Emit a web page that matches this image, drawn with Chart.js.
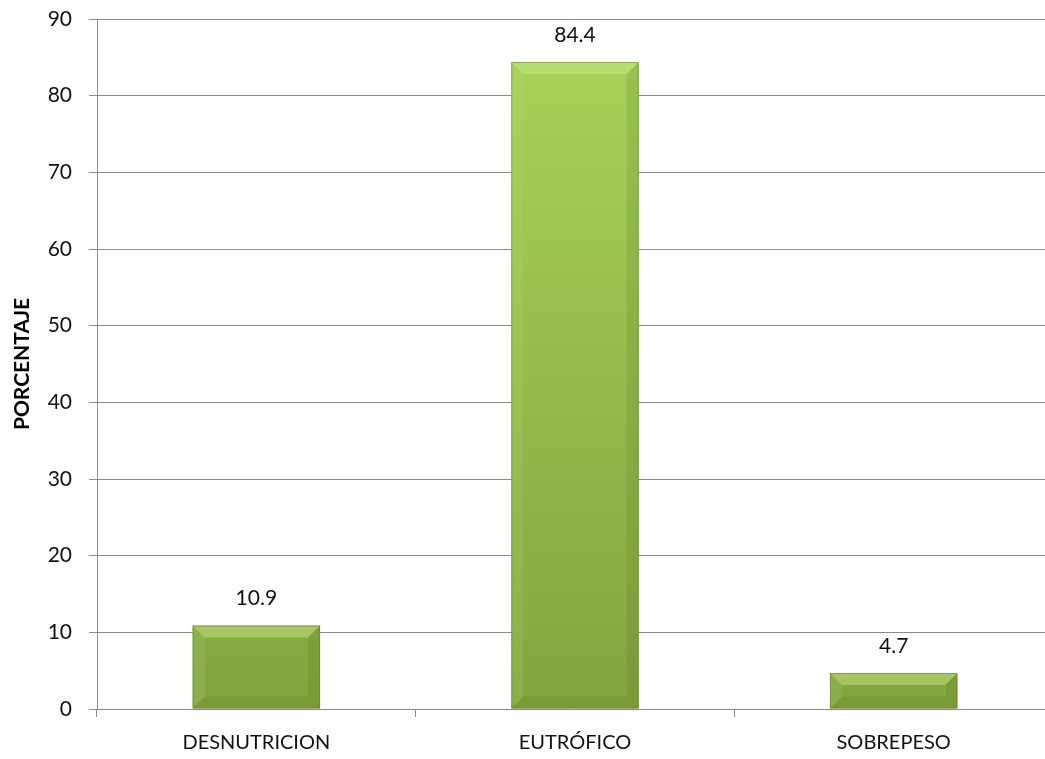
<!DOCTYPE html>
<html>
<head>
<meta charset="utf-8">
<script src="https://cdn.jsdelivr.net/npm/chart.js@4/dist/chart.umd.min.js"></script>
<style>
  html, body { margin: 0; padding: 0; background: #fff; overflow: hidden; }
  #wrap { width: 1056px; height: 759px; }
</style>
</head>
<body>
<div id="wrap"><canvas id="chart" width="1056" height="759"></canvas></div>
<script>
const categories = ['DESNUTRICION', 'EUTRÓFICO', 'SOBREPESO'];
const values = [10.9, 84.4, 4.7];
const yTicks = [0, 10, 20, 30, 40, 50, 60, 70, 80, 90];

const FONT = 'Lato, sans-serif';
const GRID = '#8a8a8a';

// value labels above each bar
const valueLabels = {
  id: 'valueLabels',
  afterDatasetsDraw(chart) {
    const ctx = chart.ctx;
    const meta = chart.getDatasetMeta(0);
    ctx.save();
    ctx.font = '21px ' + FONT;
    ctx.fillStyle = '#111';
    ctx.textAlign = 'center';
    ctx.textBaseline = 'middle';
    meta.data.forEach((bar, i) => {
      ctx.fillText(values[i].toFixed(1), bar.x, bar.y - 27);
    });
    ctx.restore();
  }
};

// soft bevel edges like the office chart style
const bevel = {
  id: 'bevel',
  afterDatasetsDraw(chart) {
    const ctx = chart.ctx;
    const meta = chart.getDatasetMeta(0);
    ctx.save();
    meta.data.forEach(bar => {
      const l = bar.x - bar.width / 2, r = bar.x + bar.width / 2;
      const t = bar.y, b = bar.base;
      const s = Math.min(12, (b - t) / 2);
      ctx.fillStyle = 'rgba(205,235,140,0.45)';
      ctx.beginPath();
      ctx.moveTo(l, t); ctx.lineTo(r, t); ctx.lineTo(r - s, t + s); ctx.lineTo(l + s, t + s); ctx.closePath(); ctx.fill();
      ctx.fillStyle = 'rgba(190,225,120,0.15)';
      ctx.beginPath();
      ctx.moveTo(l, t); ctx.lineTo(l + s, t + s); ctx.lineTo(l + s, b - s); ctx.lineTo(l, b); ctx.closePath(); ctx.fill();
      ctx.fillStyle = 'rgba(60,80,20,0.12)';
      ctx.beginPath();
      ctx.moveTo(r, t); ctx.lineTo(r - s, t + s); ctx.lineTo(r - s, b - s); ctx.lineTo(r, b); ctx.closePath(); ctx.fill();
      ctx.fillStyle = 'rgba(50,70,15,0.12)';
      ctx.beginPath();
      ctx.moveTo(l, b); ctx.lineTo(l + s, b - s); ctx.lineTo(r - s, b - s); ctx.lineTo(r, b); ctx.closePath(); ctx.fill();
      ctx.strokeStyle = 'rgba(100,120,50,0.5)';
      ctx.lineWidth = 1;
      ctx.strokeRect(l + 0.5, t + 0.5, bar.width - 1, b - t - 1);
    });
    ctx.restore();
  }
};

new Chart(document.getElementById('chart'), {
  type: 'bar',
  data: {
    labels: categories,
    datasets: [{
      data: values,
      backgroundColor(context) {
        const { chart } = context;
        const area = chart.chartArea;
        if (!area) return '#9cc44a';
        const g = chart.ctx.createLinearGradient(0, area.top, 0, area.bottom);
        g.addColorStop(0, '#a9d45a');
        g.addColorStop(1, '#84a43e');
        return g;
      },
      borderWidth: 0,
      barPercentage: 0.4,
      categoryPercentage: 1.0
    }]
  },
  options: {
    responsive: false,
    animation: false,
    layout: { padding: { top: 19, right: 3, left: 0, bottom: 0 } },
    plugins: { legend: { display: false }, tooltip: { enabled: false } },
    scales: {
      x: {
        grid: { display: true, offset: true, drawOnChartArea: false, drawTicks: true, tickLength: 8, color: GRID },
        border: { color: GRID, width: 1 },
        ticks: { color: '#111', font: { family: FONT, size: 20 }, padding: 14, maxRotation: 0 },
        afterFit(scale) { scale.height = 50; scale.paddingLeft = 0; scale.paddingRight = 0; }
      },
      y: {
        min: 0,
        max: 90,
        afterBuildTicks(scale) { scale.ticks = yTicks.map(v => ({ value: v })); },
        grid: { color: GRID, tickLength: 8, drawTicks: true },
        border: { color: GRID, width: 1 },
        ticks: { color: '#111', font: { family: FONT, size: 21 }, padding: 17 },
        title: { display: true, text: 'PORCENTAJE', color: '#000', font: { family: FONT, size: 21, weight: 'bold' }, padding: { top: 10, bottom: 0 } },
        afterFit(scale) { scale.width = 97; scale.paddingTop = 0; scale.paddingBottom = 0; }
      }
    }
  },
  plugins: [valueLabels, bevel]
});
</script>
</body>
</html>
